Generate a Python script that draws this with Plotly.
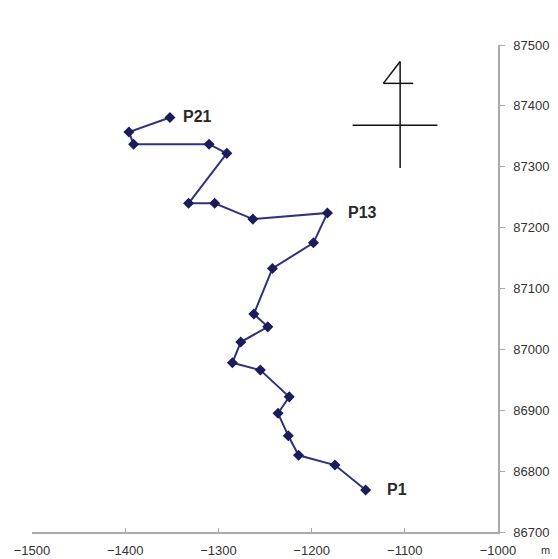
import plotly.graph_objects as go

# Survey traverse stations (local grid, metres)
easting = [-1142, -1175, -1214, -1225, -1236, -1224, -1255, -1285, -1276, -1247,
           -1262, -1242, -1198, -1183, -1263, -1304, -1332, -1291, -1310, -1391,
           -1396, -1352]
northing = [86769, 86810, 86826, 86858, 86895, 86922, 86966, 86978, 87012, 87037,
            87058, 87133, 87175, 87224, 87214, 87240, 87240, 87322, 87337, 87337,
            87357, 87381]

# Named stations: (index into the station list, name, pixel offset)
station_names = ["P1", "P13", "P21"]
station_index = [0, 13, 21]
station_shift = [19, 19, 11]

x_ticks = [-1500, -1400, -1300, -1200, -1100, -1000]
y_ticks = [86700, 86800, 86900, 87000, 87100, 87200, 87300, 87400, 87500]

fig = go.Figure()
fig.add_trace(go.Scatter(
    x=easting, y=northing, mode="lines+markers",
    line=dict(color="#2f2f8c", width=2),
    marker=dict(symbol="diamond", size=8.5, color="#1c1c5c"),
    hoverinfo="skip", showlegend=False, cliponaxis=False,
))

for name, idx, shift in zip(station_names, station_index, station_shift):
    fig.add_annotation(
        x=easting[idx], y=northing[idx], text=f"<b>{name}</b>",
        showarrow=False, xanchor="left", xshift=shift, yshift=1,
        font=dict(family="Liberation Sans, Arial", size=16, color="#2a2a2a"),
    )

# North arrow
ink = dict(color="#111111", width=1.5)
fig.add_shape(type="line", xref="x", yref="y", x0=-1105, x1=-1105, y0=87298, y1=87473, line=ink)
fig.add_shape(type="line", xref="x", yref="y", x0=-1156, x1=-1065, y0=87368, y1=87368, line=ink)
fig.add_shape(type="line", xref="x", yref="y", x0=-1105, x1=-1123, y0=87473, y1=87437, line=ink)
fig.add_shape(type="line", xref="x", yref="y", x0=-1123, x1=-1091, y0=87437, y1=87437, line=ink)
fig.add_annotation(
    x=-1105, y=87532, text="N", showarrow=False, xref="x", yref="y",
    font=dict(family="Liberation Serif, Times New Roman", size=17, color="#111111"),
)

# Unit label
fig.add_annotation(
    x=1.115, y=0, xref="paper", yref="paper", yanchor="top", yshift=-10,
    text="m", showarrow=False,
    font=dict(family="Liberation Sans, Arial", size=11, color="#333333"),
)

axis_font = dict(family="Liberation Sans, Arial", size=13, color="#333333")
fig.update_layout(
    width=558, height=559,
    margin=dict(l=32, r=60, t=45, b=27),
    paper_bgcolor="white", plot_bgcolor="white",
    xaxis=dict(
        range=[-1500, -1000], tickvals=x_ticks,
        ticktext=[f"\u2212{abs(v)}" for v in x_ticks],
        showgrid=False, zeroline=False, automargin=False,
        showline=True, linecolor="#aaaaaa", linewidth=1.5,
        ticks="inside", ticklen=4, tickcolor="#aaaaaa",
        tickfont=axis_font, ticklabelstandoff=6,
    ),
    yaxis=dict(
        range=[86700, 87500], tickvals=y_ticks,
        ticktext=[str(v) for v in y_ticks], side="right",
        showgrid=False, zeroline=False, automargin=False,
        showline=True, linecolor="#aaaaaa", linewidth=1.5,
        ticks="outside", ticklen=5, tickcolor="#aaaaaa",
        tickfont=axis_font, ticklabelstandoff=6,
    ),
)

fig.write_html("out.html")
